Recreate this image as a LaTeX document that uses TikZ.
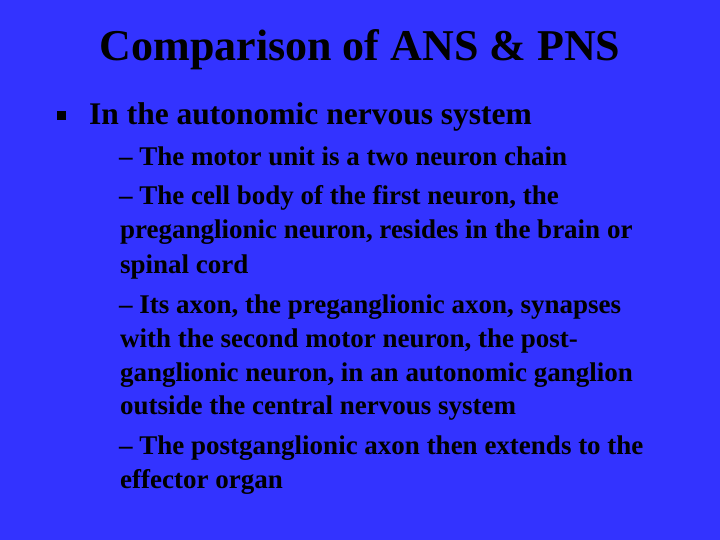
\documentclass[tikz,border=0pt]{standalone}
\usepackage{fontspec}
\setmainfont{Liberation Serif}
\begin{document}
\begin{tikzpicture}[x=1pt,y=-1pt,
  every node/.style={inner sep=0pt,anchor=base west,font=\bfseries},
  title/.style={font=\fontsize{44}{44}\selectfont\bfseries,anchor=base},
  lvl1/.style={font=\fontsize{31.5}{31.5}\selectfont\bfseries},
  lvl2/.style={font=\fontsize{27}{27}\selectfont\bfseries}]
\definecolor{slidebg}{RGB}{51,51,255}
\fill[slidebg] (0,0) rectangle (720,540);
\useasboundingbox (0,0) rectangle (720,540);
\node[title] (t) at (360,61) {Comparison of ANS \& PNS};
\fill[black] (57,111) rectangle (66,120);
\node[lvl1] (b1) at (89,125) {In the autonomic nervous system};
\node[lvl2] (l1) at (119,166) {– The motor unit is a two neuron chain};
\node[lvl2] (d2) at (119,205) {– The cell body of the first neuron, the};
\node[lvl2] (l2b) at (120,239) {preganglionic neuron, resides in the brain or};
\node[lvl2] (l2c) at (120,273) {spinal cord};
\node[lvl2] (d3) at (119,313) {– Its axon, the preganglionic axon, synapses};
\node[lvl2] (l3b) at (120,347) {with the second motor neuron, the post-};
\node[lvl2] (l3c) at (120,381) {ganglionic neuron, in an autonomic ganglion};
\node[lvl2] (l3d) at (120,414) {outside the central nervous system};
\node[lvl2] (d4) at (119,454) {– The postganglionic axon then extends to the};
\node[lvl2] (l4b) at (120,488) {effector organ};
\end{tikzpicture}
\end{document}
